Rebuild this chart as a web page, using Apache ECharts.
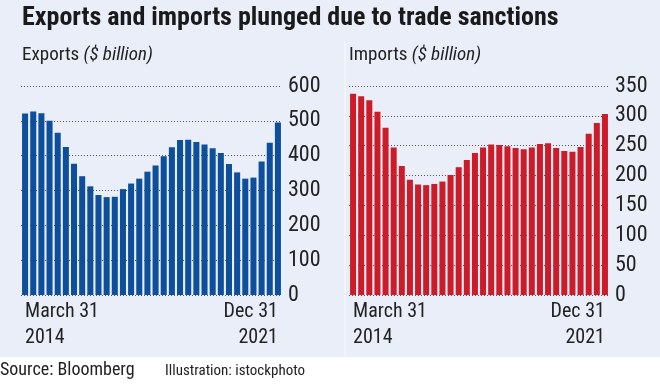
<!DOCTYPE html>
<html><head><meta charset="utf-8">
<script src="https://cdn.jsdelivr.net/npm/echarts@6/dist/echarts.min.js"></script>
<style>html,body{margin:0;padding:0;background:#fff}#c{width:660px;height:387px}</style>
</head><body><div id="c"></div>
<script>
const categories = ['Mar 2014','Jun 2014','Sep 2014','Dec 2014','Mar 2015','Jun 2015','Sep 2015','Dec 2015',
 'Mar 2016','Jun 2016','Sep 2016','Dec 2016','Mar 2017','Jun 2017','Sep 2017','Dec 2017',
 'Mar 2018','Jun 2018','Sep 2018','Dec 2018','Mar 2019','Jun 2019','Sep 2019','Dec 2019',
 'Mar 2020','Jun 2020','Sep 2020','Dec 2020','Mar 2021','Jun 2021','Sep 2021','Dec 2021'];
const exportsVals = [521,527,522,500,466,425,377,341,312,287,281,282,304,320,334,354,372,398,424,445,446,439,432,421,408,376,352,334,337,383,437,495];
const importsVals = [337,333,326,307,280,247,216,193,185,184,186,190,201,214,226,238,247,252,251,249,246,244,247,253,254,246,241,240,248,270,288,303];
const exportTicks = [0,100,200,300,400,500,600];
const importTicks = [0,50,100,150,200,250,300,350];
const firstLabel = 'March 31\n2014';
const lastLabel = 'Dec 31\n2021';

const FONT = '"Liberation Sans Narrow","Roboto Condensed","DejaVu Sans Condensed",sans-serif';
const chart = echarts.init(document.getElementById('c'));

function xAxis(gi){
  return {type:'category', gridIndex:gi, data:categories,
    axisLine:{show:false}, axisTick:{show:false},
    axisLabel:{show:true, interval:0, color:'#222', fontFamily:FONT, fontSize:20, lineHeight:26, margin:4,
      formatter:(v,i)=> i===0?firstLabel:(i===categories.length-1?lastLabel:''),
      verticalAlign:'top',
      alignMinLabel:'left', alignMaxLabel:'right'
    }};
}
function yAxis(gi,ticks){
  return {type:'value', gridIndex:gi, position:'right', min:ticks[0], max:ticks[ticks.length-1],
    interval:ticks[1]-ticks[0],
    axisLine:{show:false}, axisTick:{show:false},
    axisLabel:{color:'#222', fontFamily:FONT, fontSize:22, margin:6, align:'left'},
    splitLine:{show:true, lineStyle:{type:[1,2], color:'#555', width:1}}};
}

chart.setOption({
  animation:false,
  backgroundColor:'#ffffff',
  graphic:[
    {type:'rect', z:-10, shape:{x:0,y:0,width:660,height:357}, style:{fill:'#e9eef8'}},
    {type:'rect', z:-9, shape:{x:344,y:42,width:2,height:315}, style:{fill:'#f1f4fb'}},
    {type:'text', left:22, top:5, style:{text:'Exports and imports plunged due to trade sanctions', font:'bold 26px '+FONT, fill:'#1a1a1a'}},
    {type:'text', left:22, top:46, style:{rich:{a:{font:'19px '+FONT, fill:'#222'}, b:{font:'italic 19px '+FONT, fill:'#222'}}, text:'{a|Exports }{b|($ billion)}'}},
    {type:'text', left:349, top:46, style:{rich:{a:{font:'19px '+FONT, fill:'#222'}, b:{font:'italic 19px '+FONT, fill:'#222'}}, text:'{a|Imports }{b|($ billion)}'}},
    {type:'text', left:0, top:361, style:{text:'Source: Bloomberg', font:'18px '+FONT, fill:'#222'}},
    {type:'text', left:165, top:364, style:{text:'Illustration: istockphoto', font:'15px '+FONT, fill:'#222'}}
  ],
  grid:[
    {left:21, top:86, width:261, height:209},
    {left:349, top:86, width:260, height:209}
  ],
  xAxis:[xAxis(0), xAxis(1)],
  yAxis:[yAxis(0,exportTicks), yAxis(1,importTicks)],
  series:[
    {type:'bar', xAxisIndex:0, yAxisIndex:0, data:exportsVals, barCategoryGap:'26%', itemStyle:{color:'#0d4f9b'}},
    {type:'bar', xAxisIndex:1, yAxisIndex:1, data:importsVals, barCategoryGap:'26%', itemStyle:{color:'#cc1b29'}}
  ]
});
</script></body></html>
